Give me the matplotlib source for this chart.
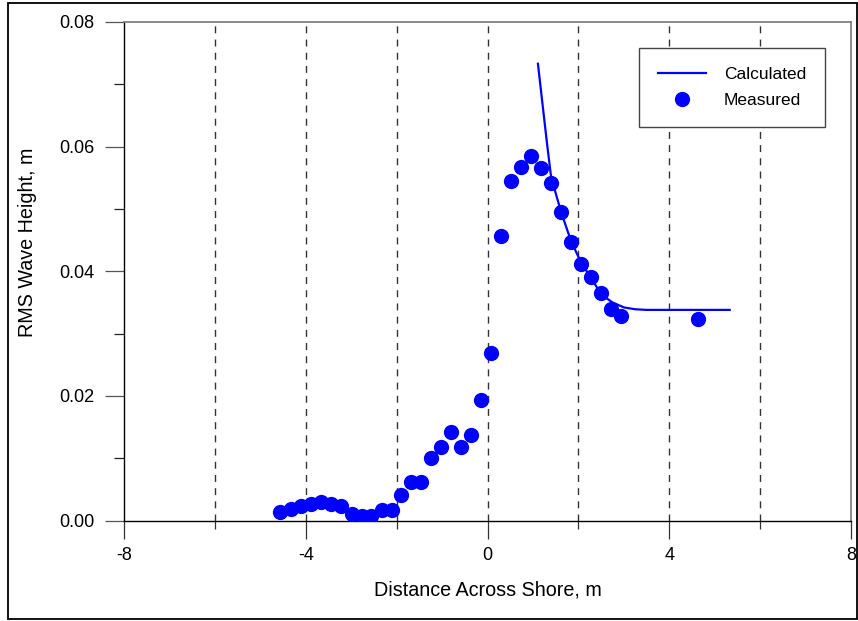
"""
RMS wave height across the shore: calculated profile vs measured points
"""
import matplotlib
matplotlib.use('Agg')
import matplotlib.pyplot as plt
from matplotlib.patches import Rectangle
from matplotlib.ticker import MultipleLocator

plt.rcParams['font.family'] = ['Liberation Sans', 'DejaVu Sans']

# measured RMS wave height, m
measured_x = [-4.56, -4.33, -4.10, -3.88, -3.66, -3.44, -3.22, -2.98, -2.76,
              -2.56, -2.32, -2.10, -1.90, -1.68, -1.46, -1.24, -1.02, -0.80,
              -0.58, -0.36, -0.14, 0.08, 0.30, 0.52, 0.73, 0.96, 1.17, 1.40,
              1.62, 1.84, 2.06, 2.28, 2.50, 2.72, 2.94, 4.63]
measured_h = [0.0014, 0.0018, 0.0023, 0.0026, 0.0030, 0.0026, 0.0023, 0.0010,
              0.0008, 0.0008, 0.0017, 0.0017, 0.0041, 0.0061, 0.0061, 0.0100,
              0.0118, 0.0142, 0.0118, 0.0137, 0.0194, 0.0269, 0.0457, 0.0545,
              0.0567, 0.0585, 0.0565, 0.0541, 0.0495, 0.0447, 0.0411, 0.0390,
              0.0365, 0.0339, 0.0328, 0.0323]

# calculated RMS wave height, m
calc_x = [1.11, 1.20, 1.31, 1.40, 1.62, 1.84, 2.06, 2.30, 2.50, 2.75, 3.00,
          3.25, 3.50, 4.00, 4.50, 5.00, 5.33]
calc_h = [0.0733, 0.0675, 0.0605, 0.0551, 0.0495, 0.0448, 0.0414, 0.0387,
          0.0363, 0.0350, 0.0342, 0.0339, 0.0338, 0.0338, 0.0338, 0.0338,
          0.0338]

grid_x = [-6, -4, -2, 0, 2, 4, 6]

fig = plt.figure(figsize=(8.58, 6.21), dpi=100)
ax = fig.add_axes([124 / 858, 1 - 520.5 / 621, 727 / 858, 498.5 / 621])

for gx in grid_x:
    ax.axvline(gx, color='#333333', lw=1.0, linestyle=(0, (5, 4.5)), zorder=1)

ax.plot(calc_x, calc_h, color='#0000ff', lw=1.6, label='Calculated', zorder=3)
ax.plot(measured_x, measured_h, 'o', color='#0000ff', ms=11, mec='none',
        label='Measured', zorder=4)

ax.set_xlim(-8, 8)
ax.set_ylim(0, 0.08)
ax.xaxis.set_minor_locator(MultipleLocator(2))
ax.yaxis.set_minor_locator(MultipleLocator(0.01))
ax.set_xticks([-8, -4, 0, 4, 8])
ax.set_xticklabels(['-8', '-4', '0', '4', '8'])
ax.set_yticks([0, 0.02, 0.04, 0.06, 0.08])
ax.set_yticklabels(['0.00', '0.02', '0.04', '0.06', '0.08'])

ax.tick_params(axis='x', which='major', direction='out', length=13, width=0.9,
               color='#333333', pad=6, labelsize=13)
ax.tick_params(axis='x', which='minor', direction='out', length=6, width=0.9,
               color='#333333')
ax.tick_params(axis='y', which='major', direction='out', length=14, width=0.9,
               color='#555555', pad=7, labelsize=13)
ax.tick_params(axis='y', which='minor', direction='out', length=7, width=0.9,
               color='#222222')

ax.spines['left'].set_color('black')
ax.spines['bottom'].set_color('black')
ax.spines['left'].set_linewidth(1.0)
ax.spines['bottom'].set_linewidth(1.0)
ax.spines['top'].set_color('#777777')
ax.spines['right'].set_color('#777777')
ax.spines['top'].set_linewidth(1.2)
ax.spines['right'].set_linewidth(1.2)

ax.set_xlabel('Distance Across Shore, m', fontsize=14.2, labelpad=12)
ax.set_ylabel('RMS Wave Height, m', fontsize=14.2)
# y label sits a bit above the middle of the axis
ax.yaxis.set_label_coords(-0.12, 0.559)

leg = ax.legend(loc='upper right', bbox_to_anchor=(825 / 858, 1 - 48 / 621),
                bbox_transform=fig.transFigure, frameon=True, fancybox=False,
                fontsize=12.5, handlelength=2.8, borderpad=1.1,
                labelspacing=0.6, handletextpad=1.0, borderaxespad=0)
leg.get_frame().set_edgecolor('#444444')
leg.get_frame().set_linewidth(1.0)
leg.get_frame().set_alpha(1.0)
leg.set_zorder(5)

# outer frame around the whole figure
fig.patches.append(Rectangle((8 / 858, 2 / 621), 849 / 858, 616 / 621,
                             transform=fig.transFigure, fill=False,
                             edgecolor='black', lw=1.3))

fig.savefig('out.png', dpi=100)
